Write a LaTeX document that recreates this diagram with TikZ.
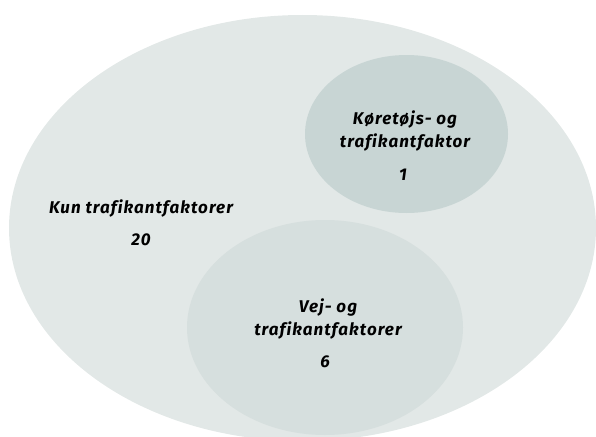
\documentclass[tikz,border=0pt]{standalone}
\usepackage{fontspec}
\setmainfont{Fira Sans}[Ligatures=NoCommon, LetterSpace=6]
\usetikzlibrary{shapes.geometric}
\definecolor{setall}{RGB}{226,232,231}
\definecolor{setveh}{RGB}{200,213,212}
\definecolor{setroad}{RGB}{214,223,222}
\tikzset{
  region/.style={ellipse, inner sep=0pt, draw=none},
  lbl/.style={align=center, inner sep=0pt, text=black,
    font=\fontsize{17}{23}\selectfont\bfseries\itshape},
}
\begin{document}
\begin{tikzpicture}[x=1pt,y=-1pt]
  \useasboundingbox (0,0) rectangle (596,436);
  \clip (0,0) rectangle (596,436);
  % the three sets
  \node[region, fill=setall,  minimum width=587pt, minimum height=426pt] (all)  at (302.5,228) {};
  \node[region, fill=setveh,  minimum width=203pt, minimum height=158pt] (veh)  at (406.5,134) {};
  \node[region, fill=setroad, minimum width=276pt, minimum height=215pt] (road) at (325,327.5) {};
  % labels and counts
  \node[lbl] (allname)  at (141,208)   {Kun trafikantfaktorer};
  \node[lbl] (allnum)   at (141,240)   {20};
  \node[lbl] (vehname)  at (405,131.5) {Køretøjs- og\\trafikantfaktor};
  \node[lbl] (vehnum)   at (403,175)   {1};
  \node[lbl] (roadname) at (328,318.5) {Vej- og\\trafikantfaktorer};
  \node[lbl] (roadnum)  at (325,362)   {6};
\end{tikzpicture}
\end{document}
